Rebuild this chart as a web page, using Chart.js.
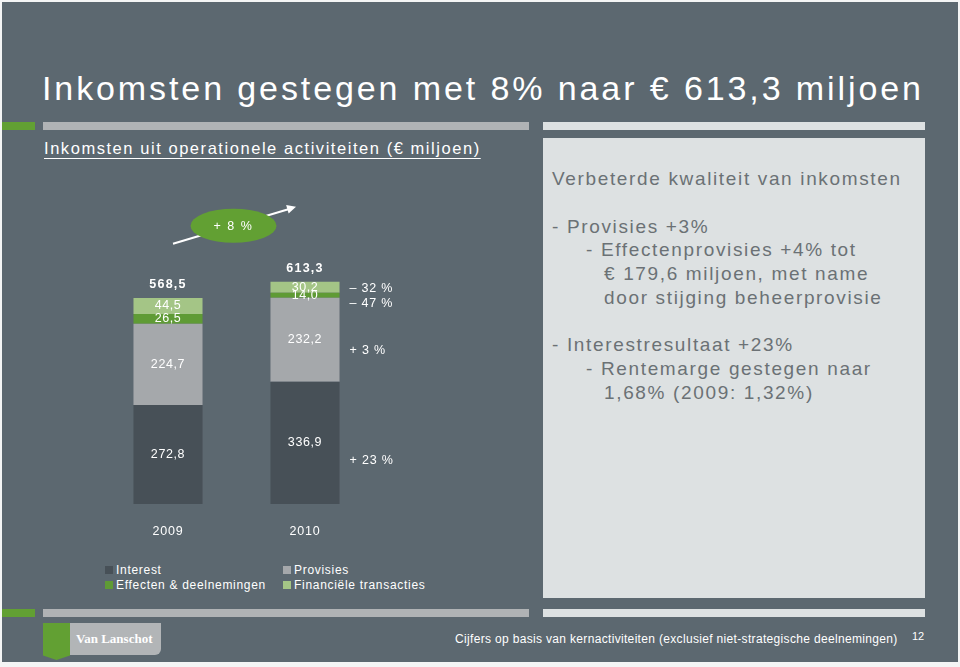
<!DOCTYPE html>
<html>
<head>
<meta charset="utf-8">
<script src="https://cdn.jsdelivr.net/npm/chart.js@4.4.0/dist/chart.umd.min.js"></script>
<style>
  body { margin: 0; width: 960px; height: 667px; overflow: hidden; background: #f4f5f5;
         font-family: "Liberation Sans", Arial, sans-serif; position: relative; }
  .abs { position: absolute; }
  #slide { left: 2px; top: 2px; width: 956px; height: 660px; background: #5c6870; }
  #title { left: 42px; top: 69px; color: #fff; font-size: 34px; letter-spacing: 2.9px; white-space: nowrap; }
  .bar { height: 8px; }
  #subtitle { left: 44px; top: 139px; color: #fff; font-size: 16.5px; letter-spacing: 1.55px;
              text-decoration: underline; text-underline-offset: 4px; white-space: nowrap; }
  #panel { left: 543px; top: 138px; width: 382px; height: 460px; background: #dde1e2; }
  .pt { position: absolute; color: #6b7175; font-size: 19px; letter-spacing: 1.65px; white-space: nowrap; }
  #legend { left: 105px; top: 563px; color: #fff; font-size: 12px; letter-spacing: 0.7px; }
  .lg { position: absolute; white-space: nowrap; }
  .sw { display: inline-block; width: 8px; height: 8px; margin-right: 3px; }
  #footer { left: 455px; top: 632px; color: #fff; font-size: 12px; letter-spacing: 0.33px; white-space: nowrap; }
  #page { left: 912px; top: 630px; color: #fff; font-size: 11px; }
  #logoGreen { left: 43px; top: 623px; width: 27px; height: 37px; background: #62a033;
               clip-path: polygon(0 0,100% 0,100% 88%,50% 100%,0 88%); }
  #logoGrey { left: 70px; top: 623px; width: 91px; height: 32px; background: #b2b5b7; border-radius: 0 0 6px 0;
              color: #fff; font: bold 13px "Liberation Serif", serif; line-height: 32px; text-indent: 6px; }
  #chartBox { left: 0; top: 0; width: 540px; height: 620px; }
</style>
</head>
<body>
<div id="slide" class="abs"></div>
<div id="title" class="abs">Inkomsten gestegen met 8% naar € 613,3 miljoen</div>
<div class="abs bar" style="left:2px;top:122px;width:33px;background:#62a033"></div>
<div class="abs bar" style="left:43px;top:122px;width:486px;background:#b0b3b5"></div>
<div class="abs bar" style="left:543px;top:122px;width:382px;background:#dde1e2"></div>
<div id="subtitle" class="abs">Inkomsten uit operationele activiteiten (€ miljoen)</div>
<div id="panel" class="abs">
  <div class="pt" style="left:9px;top:30px">Verbeterde kwaliteit van inkomsten</div>
  <div class="pt" style="left:9px;top:78px">- Provisies +3%</div>
  <div class="pt" style="left:43px;top:101px">- Effectenprovisies +4% tot</div>
  <div class="pt" style="left:61px;top:125px">€ 179,6 miljoen, met name</div>
  <div class="pt" style="left:61px;top:149px">door stijging beheerprovisie</div>
  <div class="pt" style="left:9px;top:196px">- Interestresultaat +23%</div>
  <div class="pt" style="left:43px;top:220px">- Rentemarge gestegen naar</div>
  <div class="pt" style="left:61px;top:244px">1,68% (2009: 1,32%)</div>
</div>
<div class="abs bar" style="left:2px;top:609px;width:33px;background:#62a033"></div>
<div class="abs bar" style="left:43px;top:609px;width:486px;background:#b0b3b5"></div>
<div class="abs bar" style="left:543px;top:609px;width:382px;background:#dde1e2"></div>
<div id="logoGreen" class="abs"></div>
<div id="logoGrey" class="abs">Van Lanschot</div>
<div id="footer" class="abs">Cijfers op basis van kernactiviteiten (exclusief niet-strategische deelnemingen)</div>
<div id="page" class="abs">12</div>
<div id="legend" class="abs"></div>
<div id="chartBox" class="abs"><canvas id="chart" width="540" height="620"></canvas></div>

<script>
const years = ["2009", "2010"];
const seriesNames = ["Interest", "Provisies", "Effecten & deelnemingen", "Financiële transacties"];
const interest = [272.8, 336.9];
const provisies = [224.7, 232.2];
const effecten = [26.5, 14.0];
const financieel = [44.5, 30.2];
const totals = [568.5, 613.3];
const changes = ["+ 23 %", "+ 3 %", "– 47 %", "– 32 %"];
const growth = "+ 8 %";

const colors = ["#475057", "#a5a8ab", "#5f9b35", "#a4c586"];
const values = [interest, provisies, effecten, financieel];

function fmt(v) {
  return v.toFixed(1).replace(".", ",");
}

// legend: two rows of two
const legend = document.getElementById("legend");
seriesNames.forEach((name, i) => {
  const el = document.createElement("div");
  el.className = "lg";
  el.style.left = (i % 2 ? 178 : 0) + "px";
  el.style.top = (i < 2 ? 0 : 15) + "px";
  el.innerHTML = `<span class="sw" style="background:${colors[i]}"></span>${name}`;
  legend.appendChild(el);
});

const labelPlugin = {
  id: "slideLabels",
  afterDatasetsDraw(chart) {
    const ctx = chart.ctx;
    const metas = chart.data.datasets.map((d, i) => chart.getDatasetMeta(i).data);
    ctx.save();
    ctx.fillStyle = "#fff";
    ctx.textAlign = "center";
    ctx.textBaseline = "middle";
    ctx.letterSpacing = "0.6px";
    ctx.font = "12.5px 'Liberation Sans', Arial, sans-serif";
    metas.forEach((bars, di) => {
      bars.forEach((bar, i) => {
        ctx.fillText(fmt(values[di][i]), bar.x, (bar.y + bar.base) / 2);
      });
    });

    const tops = metas[metas.length - 1];
    ctx.font = "bold 12.5px 'Liberation Sans', Arial, sans-serif";
    ctx.letterSpacing = "1.2px";
    tops.forEach((bar, i) => ctx.fillText(fmt(totals[i]), bar.x, bar.y - 13));

    ctx.font = "12.5px 'Liberation Sans', Arial, sans-serif";
    ctx.letterSpacing = "0.8px";
    const base = metas[0][0].base;
    tops.forEach((bar, i) => ctx.fillText(years[i], bar.x, base + 28));

    // change vs. 2009, right of the 2010 bar
    ctx.textAlign = "left";
    const nudge = [18, 11, 8, 1];
    metas.forEach((bars, di) => {
      const b = bars[1];
      ctx.fillText(changes[di], b.x + b.width / 2 + 10, (b.y + b.base) / 2 + nudge[di]);
    });

    // growth ellipse with arrow
    const b0 = tops[0], b1 = tops[1];
    const cx = (b0.x + b1.x) / 2 - 3, cy = b1.y - 56;
    const x1 = b0.x + 5, y1 = cy + 18, x2 = b1.x - 9, y2 = cy - 19;
    ctx.strokeStyle = "#fff";
    ctx.lineWidth = 2;
    ctx.beginPath(); ctx.moveTo(x1, y1); ctx.lineTo(x2 - 6, y2 + 2); ctx.stroke();
    const ang = Math.atan2(y2 - y1, x2 - x1);
    ctx.beginPath();
    ctx.moveTo(x2, y2);
    ctx.lineTo(x2 - 10 * Math.cos(ang - 0.45), y2 - 10 * Math.sin(ang - 0.45));
    ctx.lineTo(x2 - 10 * Math.cos(ang + 0.45), y2 - 10 * Math.sin(ang + 0.45));
    ctx.closePath(); ctx.fill();
    ctx.fillStyle = "#62a033";
    ctx.beginPath(); ctx.ellipse(cx, cy, 43, 17, 0, 0, Math.PI * 2); ctx.fill();
    ctx.fillStyle = "#fff";
    ctx.textAlign = "center";
    ctx.font = "12.5px 'Liberation Sans', Arial, sans-serif";
    ctx.letterSpacing = "1.5px";
    ctx.fillText(growth, cx, cy + 1);
    ctx.restore();
  }
};

new Chart(document.getElementById("chart"), {
  type: "bar",
  data: {
    labels: years,
    datasets: seriesNames.map((name, i) => ({
      label: name,
      data: values[i],
      backgroundColor: colors[i],
      borderWidth: 0,
      categoryPercentage: 1,
      barPercentage: 0.504,
    })),
  },
  options: {
    responsive: false,
    animation: false,
    layout: { padding: { left: 99.5, right: 166.5, top: 214, bottom: 116 } },
    plugins: { legend: { display: false }, tooltip: { enabled: false } },
    scales: {
      x: { stacked: true, display: false },
      y: { stacked: true, display: false, min: 0, max: 800 },
    },
  },
  plugins: [labelPlugin],
});
</script>
</body>
</html>
